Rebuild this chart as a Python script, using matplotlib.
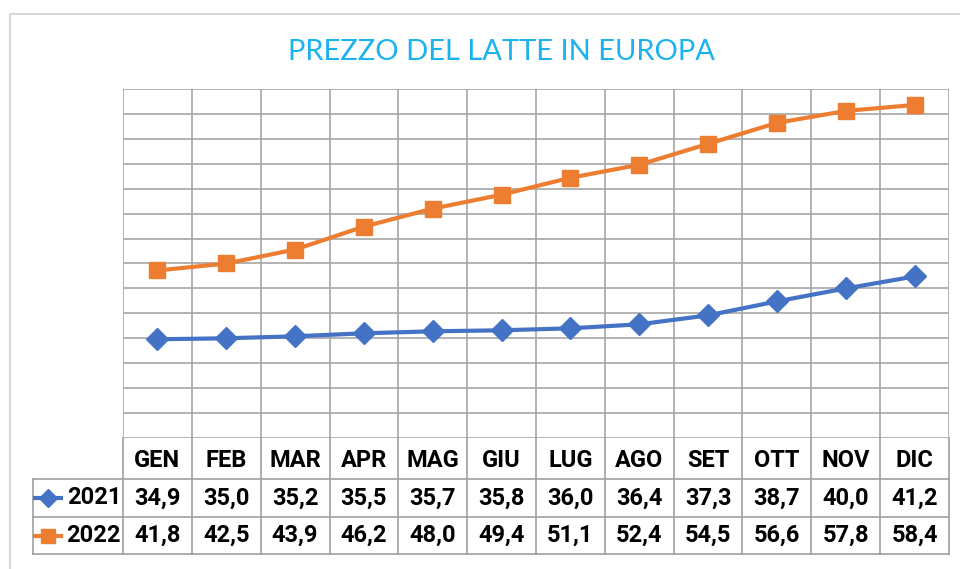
import matplotlib
matplotlib.use("Agg")
import matplotlib.pyplot as plt
from matplotlib.lines import Line2D

months = ["GEN", "FEB", "MAR", "APR", "MAG", "GIU", "LUG", "AGO", "SET", "OTT", "NOV", "DIC"]
series_names = ["2021", "2022"]
values_2021 = [34.9, 35.0, 35.2, 35.5, 35.7, 35.8, 36.0, 36.4, 37.3, 38.7, 40.0, 41.2]
values_2022 = [41.8, 42.5, 43.9, 46.2, 48.0, 49.4, 51.1, 52.4, 54.5, 56.6, 57.8, 58.4]
title = "PREZZO DEL LATTE IN EUROPA"

colors = ["#4472C4", "#ED7D31"]
markers = ["D", "s"]
msizes = [11, 12]
W, H = 960, 569
FONT = ["Lato", "DejaVu Sans"]
TFONT = ["Roboto", "DejaVu Sans"]

fig = plt.figure(figsize=(W / 100, H / 100), dpi=100)

def fx(px):
    return px / W

def fy(py):
    return 1 - py / H

# outer chart border
fig.add_artist(Line2D([fx(10), fx(10), fx(960)], [fy(569), fy(14), fy(14)],
                      transform=fig.transFigure, color="#d0d0d0", lw=1.2))

left_px, right_px, top_px, bot_px = 123, 949, 89, 438
ax = fig.add_axes([fx(left_px), fy(bot_px), fx(right_px - left_px), (bot_px - top_px) / H])
x = list(range(len(months)))
for vals, c, m, ms in zip([values_2021, values_2022], colors, markers, msizes):
    ax.plot(x, vals, color=c, lw=3, marker=m, markersize=ms, zorder=3, solid_capstyle="round")
ax.set_xlim(-0.5, len(months) - 0.5)
ax.set_ylim(25, 60)
ax.set_yticks([25 + 2.5 * i for i in range(15)])
ax.set_xticks([i - 0.5 for i in range(len(months) + 1)])
ax.grid(True, color="#a6a6a6", lw=1.2)
ax.tick_params(length=0, labelleft=False, labelbottom=False)
for s in ax.spines.values():
    s.set_visible(False)
ax.set_axisbelow(True)

fig.text(fx(501), fy(52), title, ha="center", va="center", fontsize=21,
         color="#1AB3EE", family=FONT)

# data table
tab_bot = 554
tax = fig.add_axes([fx(left_px), fy(tab_bot), fx(right_px - left_px), (tab_bot - bot_px) / H])
tax.set_xlim(-0.5, len(months) - 0.5)
tax.set_ylim(tab_bot, bot_px)
tax.axis("off")
gc = "#a0a0a0"
col_w = (right_px - left_px) / len(months)
ext = -0.5 - (left_px - 33) / col_w
row_b = [438, 479, 517, 554]
kw = dict(color=gc, lw=1.2, clip_on=False)
tax.plot([ext, len(months) - 0.5], [row_b[1]] * 2, **kw)
tax.plot([ext, len(months) - 0.5], [row_b[2]] * 2, **kw)
tax.plot([ext, len(months) - 0.5], [row_b[3]] * 2, **kw)
tax.plot([ext, ext], [row_b[1], row_b[3]], **kw)
for i in range(len(months) + 1):
    tax.plot([i - 0.5, i - 0.5], [row_b[0], row_b[3]], **kw)

tfs = 17
for i, mth in enumerate(months):
    tax.text(i, (row_b[0] + row_b[1]) / 2 + 2, mth, ha="center", va="center",
             fontsize=tfs, fontweight="bold", family=TFONT)
for r, (name, vals, c, m, ms) in enumerate(zip(series_names, [values_2021, values_2022],
                                                colors, markers, msizes)):
    yc = (row_b[r + 1] + row_b[r + 2]) / 2
    for i, v in enumerate(vals):
        tax.text(i, yc, f"{v:.1f}".replace(".", ","), ha="center", va="center",
                 fontsize=tfs, fontweight="bold", family=TFONT)
    x0 = ext + 2 / col_w
    x1 = ext + 28 / col_w
    tax.plot([x0, x1], [yc, yc], color=c, lw=3, clip_on=False)
    tax.plot([(x0 + x1) / 2], [yc], color=c, marker=m, markersize=ms * 0.85, clip_on=False)
    tax.text(-0.5 - 2 / col_w, yc, name, ha="right", va="center",
             fontsize=tfs, fontweight="bold", family=TFONT)

fig.savefig("out.png", dpi=100)
